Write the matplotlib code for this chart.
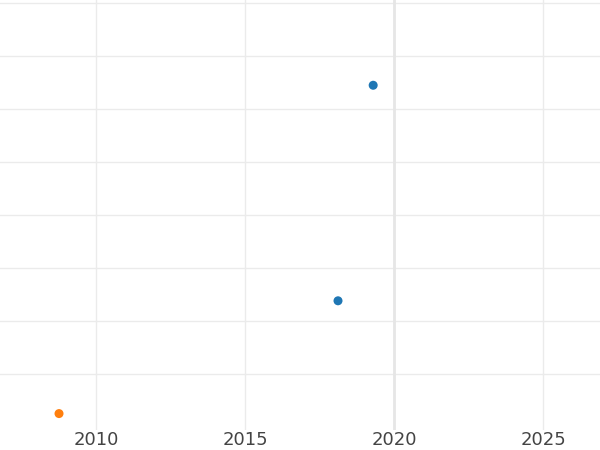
import matplotlib.pyplot as plt

# points
years = [2008.76, 2018.12, 2019.30]
values = [0.25, 2.38, 6.45]
colors = ['#ff7f0e', '#1f77b4', '#1f77b4']

xticks = [2010, 2015, 2020, 2025]
yticks = [1, 2, 3, 4, 5, 6, 7, 8]

fig = plt.figure(figsize=(6, 4.5), dpi=100)
ax = fig.add_axes([0, 20 / 450, 1, 430 / 450])

ax.scatter(years, values, c=colors, s=42, zorder=3, linewidths=0)
ax.axvline(2020, color='#e6e6e6', linewidth=2, zorder=1)

ax.set_xlim(2006.78, 2026.91)
ax.set_ylim(-0.06, 8.06)
ax.set_xticks(xticks)
ax.set_yticks(yticks)
ax.set_yticklabels([])
ax.tick_params(axis='both', length=0, labelsize=13, labelcolor='#444444', pad=1)
ax.grid(True, color='#ebebeb', linewidth=1)
ax.set_axisbelow(True)
for s in ax.spines.values():
    s.set_visible(False)

fig.savefig('out.png', dpi=100)
plt.close(fig)
